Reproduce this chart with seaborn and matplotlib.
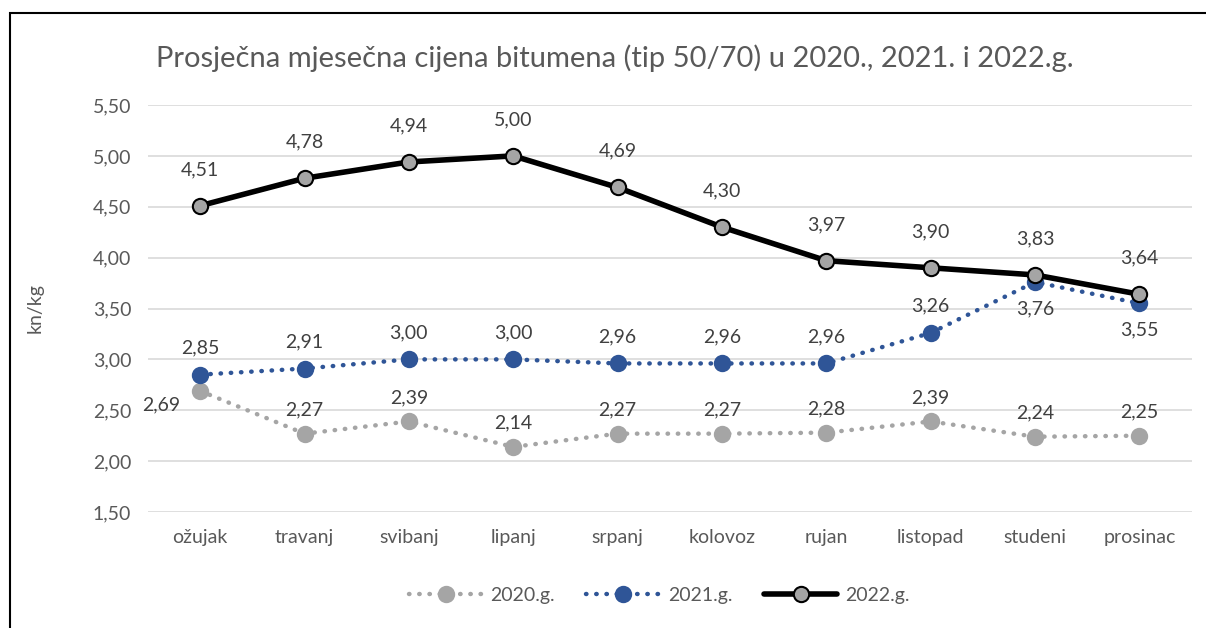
import matplotlib.pyplot as plt
import matplotlib.patches as mpatches
import numpy as np
import pandas as pd
import seaborn as sns

# podaci
mjeseci = ['ožujak', 'travanj', 'svibanj', 'lipanj', 'srpanj', 'kolovoz',
           'rujan', 'listopad', 'studeni', 'prosinac']
cijene_2020 = [2.69, 2.27, 2.39, 2.14, 2.27, 2.27, 2.28, 2.39, 2.24, 2.25]
cijene_2021 = [2.85, 2.91, 3.00, 3.00, 2.96, 2.96, 2.96, 3.26, 3.76, 3.55]
cijene_2022 = [4.51, 4.78, 4.94, 5.00, 4.69, 4.30, 3.97, 3.90, 3.83, 3.64]
godine = ['2020.g.', '2021.g.', '2022.g.']

df = pd.DataFrame({'mjesec': mjeseci, 'x': np.arange(len(mjeseci)),
                   '2020.g.': cijene_2020, '2021.g.': cijene_2021,
                   '2022.g.': cijene_2022})

sns.set_style('white')
plt.rcParams['font.family'] = ['Lato', 'DejaVu Sans']
siva_tekst = '#595959'

fig = plt.figure(figsize=(12.06, 6.28), dpi=100)
ax = fig.add_axes([0.1227, 0.1847, 0.8653, 0.6481])

# okvir grafikona (vidljiv samo lijevo i gore)
fig.patches.append(mpatches.Rectangle((10 / 1206, -0.1), 1.2, 1 - 13 / 628 + 0.1,
                                      transform=fig.transFigure, fill=False,
                                      edgecolor='black', linewidth=1.5))

stil = {
    '2020.g.': dict(color='#A5A5A5', ls=(0, (0.1, 2.2)), lw=3.2, mfc='#A5A5A5', mec='#A5A5A5', ms=11),
    '2021.g.': dict(color='#2F5597', ls=(0, (0.1, 2.2)), lw=3.2, mfc='#2F5597', mec='#2F5597', ms=11),
    '2022.g.': dict(color='black', ls='-', lw=4, mfc='#A5A5A5', mec='black', ms=11),
}

for g in godine:
    s = stil[g]
    sns.lineplot(data=df, x='x', y=g, ax=ax, color=s['color'], linestyle=s['ls'],
                 linewidth=s['lw'], marker='o', markersize=s['ms'],
                 markerfacecolor=s['mfc'], markeredgecolor=s['mec'],
                 markeredgewidth=1.5, dash_capstyle='round', label=g, zorder=3)

# oznake vrijednosti
fs = 14
boja_oznaka = '#404040'
for i, v in enumerate(cijene_2022):
    ax.annotate(f'{v:.2f}'.replace('.', ','), (i, v), xytext=(0, 20),
                textcoords='offset points', ha='center', va='bottom',
                fontsize=fs, color=boja_oznaka)
for i, v in enumerate(cijene_2021):
    if i >= 8:
        ax.annotate(f'{v:.2f}'.replace('.', ','), (i, v), xytext=(0, -13),
                    textcoords='offset points', ha='center', va='top',
                    fontsize=fs, color=boja_oznaka)
    else:
        ax.annotate(f'{v:.2f}'.replace('.', ','), (i, v), xytext=(0, 13),
                    textcoords='offset points', ha='center', va='bottom',
                    fontsize=fs, color=boja_oznaka)
for i, v in enumerate(cijene_2020):
    if i == 0:
        ax.annotate(f'{v:.2f}'.replace('.', ','), (i, v), xytext=(-14, -10),
                    textcoords='offset points', ha='right', va='center',
                    fontsize=fs, color=boja_oznaka)
    else:
        ax.annotate(f'{v:.2f}'.replace('.', ','), (i, v), xytext=(0, 11),
                    textcoords='offset points', ha='center', va='bottom',
                    fontsize=fs, color=boja_oznaka)

ax.set_xlim(-0.5, len(mjeseci) - 0.5)
ax.set_ylim(1.5, 5.5)
ax.set_xticks(df['x'])
ax.set_xticklabels(mjeseci)
yt = np.arange(1.5, 5.51, 0.5)
ax.set_yticks(yt)
ax.set_yticklabels([f'{t:.2f}'.replace('.', ',') for t in yt])
ax.tick_params(axis='both', labelsize=14, labelcolor=siva_tekst, length=0, pad=12)
ax.grid(axis='y', color='#D9D9D9', linewidth=1.2)
ax.set_axisbelow(True)
for sp in ax.spines.values():
    sp.set_visible(False)

ax.set_xlabel('')
ax.set_ylabel('kn/kg', fontsize=14, color=siva_tekst)
ax.yaxis.set_label_coords(-0.1, 0.5)

fig.text(0.51, 1 - 58 / 628, 'Prosječna mjesečna cijena bitumena (tip 50/70) u 2020., 2021. i 2022.g.',
         ha='center', va='center', fontsize=21, color=siva_tekst)

ax.legend(loc='center', bbox_to_anchor=(0.49, -0.205), ncol=3, frameon=False,
          fontsize=14, labelcolor=siva_tekst, handlelength=3.8, handletextpad=0.4,
          columnspacing=1.6)

fig.savefig('out.png', dpi=100)
